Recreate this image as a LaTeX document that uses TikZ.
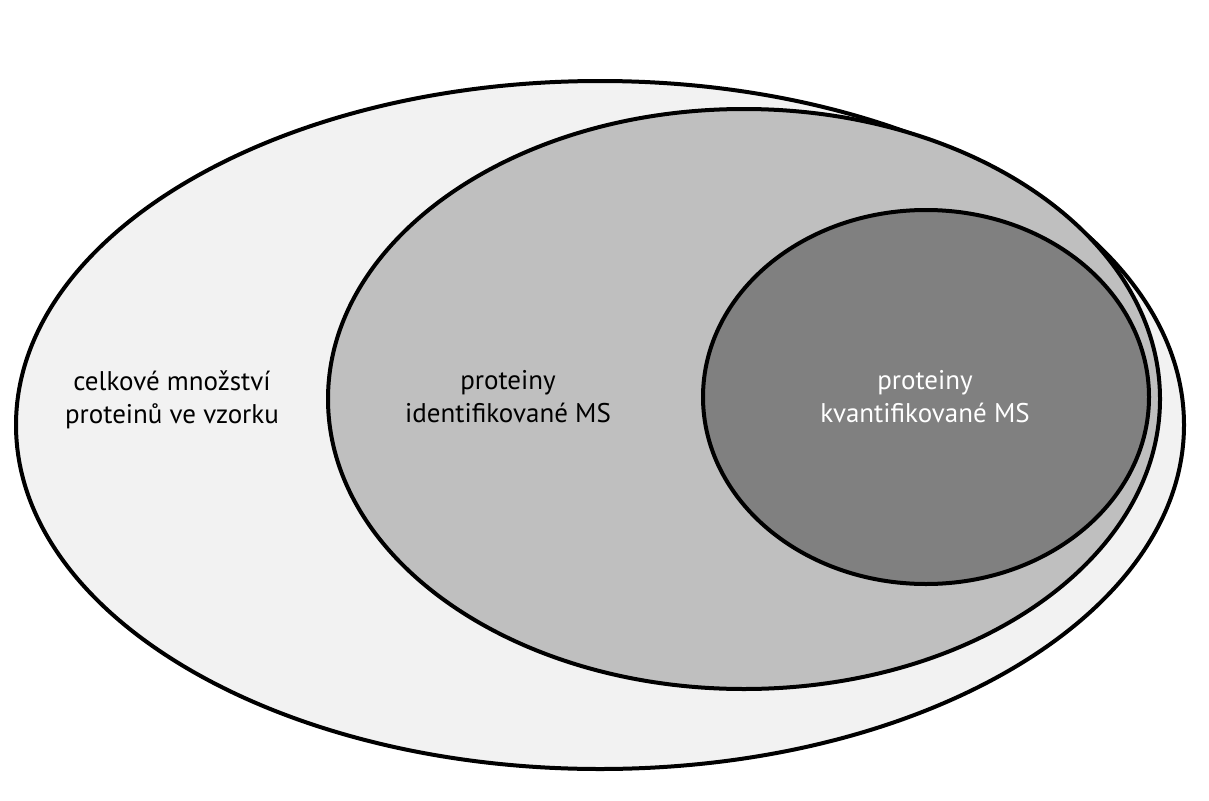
\documentclass[tikz,border=0pt]{standalone}
\usetikzlibrary{shapes.geometric}
\usepackage{fontspec}
\setmainfont{PT Sans}
\begin{document}
\begin{tikzpicture}[x=1pt,y=-1pt,
  ell/.style={draw=black,line width=4pt,ellipse,inner sep=0},
  lbl/.style={font=\fontsize{27}{33}\selectfont,align=center}]
\useasboundingbox (0,0) rectangle (1209,800);
\fill[white] (0,0) rectangle (1209,800);
\node[ell,fill=black!5,minimum width=1168,minimum height=688] (outer) at (600,425) {};
\node[ell,fill=black!25,minimum width=832,minimum height=580] (mid) at (744,399) {};
\node[ell,fill=black!50,minimum width=446,minimum height=374] (inner) at (926,397) {};
\node[lbl] (t1) at (172,400) {celkové množství\\proteinů ve vzorku};
\node[lbl] (t2) at (508,397) {proteiny\\identifikované MS};
\node[lbl,text=white] (t3) at (925,397) {proteiny\\kvantifikované MS};
\end{tikzpicture}
\end{document}
